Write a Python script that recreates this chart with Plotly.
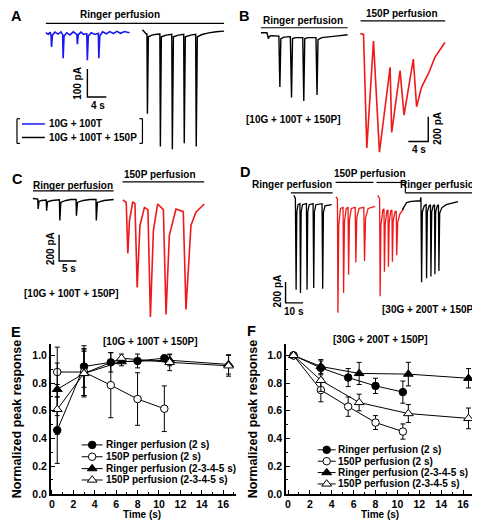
import plotly.graph_objects as go

W, H = 480, 520
FONT = "Liberation Sans, Arial, sans-serif"
BLUE = "#1818f0"
RED = "#f01818"

# ---------------- DATA ----------------
# Panel E / F summary data (normalized peak response)
t_2s = [0.5, 3, 5.5, 8, 10.5]
t_2345 = [0.5, 3, 6.5, 11, 16.5]

E_ringer_2s = [0.46, 0.92, 0.95, 0.96, 0.98]
E_ringer_2s_err = [0.24, 0.15, 0.07, 0.05, 0.02]
E_150p_2s = [0.88, 0.88, 0.785, 0.685, 0.615]
E_150p_2s_err = [0.18, 0.17, 0.235, 0.19, 0.165]
E_ringer_2345 = [0.755, 0.87, 0.955, 0.965, 0.935]
E_ringer_2345_err = [0.19, 0.16, 0.03, 0.04, 0.07]
E_150p_2345 = [0.61, 0.87, 0.98, 0.95, 0.925]
E_150p_2345_err = [0.18, 0.17, 0.03, 0.06, 0.075]

F_ringer_2s = [1.0, 0.91, 0.84, 0.78, 0.735]
F_ringer_2s_err = [0, 0.05, 0.065, 0.055, 0.08]
F_150p_2s = [1.0, 0.75, 0.63, 0.515, 0.45]
F_150p_2s_err = [0, 0.085, 0.07, 0.05, 0.055]
F_ringer_2345 = [1.0, 0.92, 0.87, 0.865, 0.835]
F_ringer_2345_err = [0, 0.05, 0.08, 0.085, 0.07]
F_150p_2345 = [1.0, 0.82, 0.66, 0.58, 0.545]
F_150p_2345_err = [0, 0.08, 0.06, 0.065, 0.075]

series_labels = ["Ringer perfusion (2 s)", "150P perfusion (2 s)",
                 "Ringer perfusion (2-3-4-5 s)", "150P perfusion (2-3-4-5 s)"]
x_ticks = [0, 2, 4, 6, 8, 10, 12, 14, 16]
y_ticks = [0.0, 0.2, 0.4, 0.6, 0.8, 1.0]

# Current traces (time in s, current in pA, baseline = 0)
A_blue_t = [0, 0.5, 0.9, 1.1, 1.2, 1.4, 1.9, 2.6, 3.2, 3.55, 3.65, 3.85, 4.4, 5.1, 5.8, 6.55, 6.67, 6.85,
            7.4, 8.0, 8.65, 8.77, 8.97, 9.6, 10.4, 11.1, 11.2, 11.4, 12.0, 12.8, 13.5, 14.3, 15.0, 15.8, 16.6, 17.7]
A_blue_i = [0, -6, 2, -10, -51, -8, 2, -5, 3, -6, -91, -12, 0, -8, 3, -6, -41, -8,
            2, -6, -4, -98, -12, 0, -6, -2, -91, -12, 3, -4, 4, -3, 5, -2, 4, 0]
A_black_t = [0, 0.3, 0.8, 0.95, 1.05, 1.25, 2.0, 3.0, 3.68, 3.79, 4.0, 5.0, 6.2, 6.32, 6.55, 7.6, 8.72, 8.84,
             9.06, 10.2, 11.25, 11.37, 11.6, 12.6, 14.0, 15.6, 17.26]
A_black_i = [7, 0, -8, -8, -293, -18, -12, -9, -8, -410, -18, -12, -9, -420, -18, -12, -9, -399,
             -18, -12, -9, -410, -18, -10, -4, 0, 2]

B_black_t = [0, 1.2, 1.5, 1.7, 2.0, 3.6, 3.8, 4.0, 4.6, 5.9, 6.14, 6.34, 7.0, 8.4, 8.6, 8.8, 9.5, 11.05,
             11.26, 11.46, 12.2, 13.5, 15.0, 17.4]
B_black_i = [0, 0, -48, -30, -24, -28, -440, -48, -36, -32, -525, -48, -40, -40, -552, -48, -40, -40,
             -504, -56, -40, -32, -28, -16]
B_red_t = [0, 0.66, 1.32, 2.66, 3.86, 6.0, 6.32, 8.0, 8.8, 10.66, 11.32, 12.32, 13.66, 15.0, 17.0]
B_red_i = [0, -8, -928, -61, -962, -274, -802, -301, -661, -208, -594, -434, -328, -194, -74]

C_black_t = [0, 1.0, 1.4, 1.52, 1.75, 2.5, 3.85, 3.96, 4.2, 5.5, 7.65, 7.76, 8.05, 9.5, 11.0, 12.45, 12.56,
             12.85, 14.5, 16.5, 18.2, 18.3, 18.6, 20.5, 23.3]
C_black_i = [0, 0, -5, -79, -22, -15, -12, -92, -25, -15, -10, -167, -30, -15, -8, -8, -130,
             -30, -15, -8, -8, -167, -30, -15, -8]
C_red_t = [0, 0.98, 1.44, 1.93, 2.87, 3.5, 4.14, 4.94, 6.24, 7.24, 7.96, 8.82, 10.06, 11.7, 12.47, 13.42,
           15.34, 17.44, 18.22, 19.66, 21.09, 23.48]
C_red_i = [0, -20, -407, -157, -15, -30, -664, -195, -58, -75, -889, -232, -32, -75, -869, -270,
           -70, -90, -831, -195, -95, -32]

D_black1_t = [0, 0.9, 1.31, 1.7, 2.4, 3.5, 3.81, 4.2, 5.0, 7.2, 7.56, 7.95, 8.8, 11.0, 11.36, 11.75, 12.6,
              16.1, 16.48, 16.9, 17.8, 21.6]
D_black1_i = [30, 0, -879, -130, -60, -50, -910, -130, -60, -50, -879, -130, -60, -50, -863, -130, -60,
              -50, -870, -130, -70, -60]
D_red1_t = [0, 0.85, 1.14, 1.6, 2.6, 4.05, 4.38, 4.85, 5.9, 6.9, 7.22, 7.7, 8.8, 11.0, 11.36, 11.9, 13.2,
            15.9, 16.31, 16.9, 18.4, 22.4]
D_red1_i = [20, 0, -1095, -250, -90, -80, -905, -220, -90, -80, -730, -200, -90, -80, -610, -180, -90,
            -80, -597, -180, -90, -70]
D_red2_t = [0, 1.05, 1.36, 1.8, 2.9, 3.55, 3.81, 4.25, 5.2, 5.85, 6.08, 6.5, 7.4, 8.1, 8.35, 8.8, 9.8,
            10.55, 10.8, 11.4, 12.6, 14.9]
D_red2_i = [30, 0, -943, -260, -110, -100, -705, -250, -120, -110, -657, -240, -120, -110, -610, -220, -130,
            -120, -546, -230, -150, -98]
D_black2_t = [0, 2.4, 5.0, 8.0, 10.2, 10.6, 10.97, 11.4, 12.5, 13.55, 13.81, 14.25, 15.3, 16.05, 16.31,
              16.75, 17.6, 18.35, 18.58, 19.0, 19.9, 20.6, 20.85, 21.3, 22.5, 25.0, 28.0, 31.8]
D_black2_i = [-108, -40, -28, -25, -22, 10, -806, -130, -70, -60, -768, -130, -70, -60, -752,
              -130, -70, -60, -730, -130, -70, -60, -698, -140, -90, -60, -45, -30]

# Scale bars (pA, s)
A_scale = (100, 4)
B_scale = (200, 4)
C_scale = (200, 5)
D_scale = (200, 10)

for a, b in [(A_blue_t, A_blue_i), (A_black_t, A_black_i), (B_black_t, B_black_i), (B_red_t, B_red_i),
             (C_black_t, C_black_i), (C_red_t, C_red_i), (D_black1_t, D_black1_i), (D_red1_t, D_red1_i),
             (D_red2_t, D_red2_i), (D_black2_t, D_black2_i)]:
    assert len(a) == len(b), (len(a), len(b))

# ---------------- FIGURE ----------------
fig = go.Figure()
layout = {}


def px(x):
    return x / W


def py(y):
    return 1 - y / H


# Trace panels: axis id -> (px per s, px per pA)
panel_scale = {3: (19 / 4, 28.3 / 100), 4: (5.0, 25 / 200), 5: (17.4 / 5, 26.7 / 200), 6: (17.6 / 10, 21 / 200)}
for n, (pxs, pxpa) in panel_scale.items():
    layout[f"xaxis{n}"] = dict(domain=[0, 1], range=[0, W / pxs], visible=False, anchor=f"y{n}", fixedrange=True)
    layout[f"yaxis{n}"] = dict(domain=[0, 1], range=[-H / pxpa, 0], visible=False, anchor=f"x{n}", fixedrange=True)


def add_current(n, t, i, x0, y0, color, width=1.3):
    pxs, pxpa = panel_scale[n]
    fig.add_trace(go.Scatter(
        x=[x0 / pxs + v for v in t], y=[v - y0 / pxpa for v in i],
        mode="lines", line=dict(color=color, width=width, shape="linear"),
        xaxis=f"x{n}", yaxis=f"y{n}", showlegend=False, hoverinfo="skip"))


def add_scalebar(n, scale, corner, hdir=1):
    pxs, pxpa = panel_scale[n]
    pa, sec = scale
    cx, cy = corner
    x0, y0 = cx / pxs, -cy / pxpa
    fig.add_trace(go.Scatter(
        x=[x0, x0, x0 + hdir * sec], y=[y0 + pa, y0, y0], mode="lines",
        line=dict(color="black", width=1.4), xaxis=f"x{n}", yaxis=f"y{n}",
        showlegend=False, hoverinfo="skip"))


# Panel A
add_current(3, A_blue_t, A_blue_i, 36, 25, BLUE, 1.6)
add_current(3, A_black_t, A_black_i, 133, 24, "black", 1.4)
add_scalebar(3, A_scale, (77.7, 90))
# Panel B
add_current(4, B_black_t, B_black_i, 252, 25, "black", 1.4)
add_current(4, B_red_t, B_red_i, 351.7, 25.7, RED, 1.6)
add_scalebar(4, B_scale, (420, 135), hdir=-1)
# Panel C
add_current(5, C_black_t, C_black_i, 23, 192.7, "black", 1.4)
add_current(5, C_red_t, C_red_i, 113.3, 194, RED, 1.6)
add_scalebar(5, C_scale, (49.3, 256))
# Panel D
add_current(6, D_black1_t, D_black1_i, 285, 192.7, "black", 1.3)
add_current(6, D_red1_t, D_red1_i, 327.3, 193.3, RED, 1.3)
add_current(6, D_red2_t, D_red2_i, 369.3, 192.7, RED, 1.3)
add_current(6, D_black2_t, D_black2_i, 394, 192.7, "black", 1.3)
add_scalebar(6, D_scale, (276.7, 298.3))

# Panels E and F
styles = [("circle", "black"), ("circle", "white"), ("triangle-up", "black"), ("triangle-up", "white")]
E_series = [(t_2s, E_ringer_2s, E_ringer_2s_err), (t_2s, E_150p_2s, E_150p_2s_err),
            (t_2345, E_ringer_2345, E_ringer_2345_err), (t_2345, E_150p_2345, E_150p_2345_err)]
F_series = [(t_2s, F_ringer_2s, F_ringer_2s_err), (t_2s, F_150p_2s, F_150p_2s_err),
            (t_2345, F_ringer_2345, F_ringer_2345_err), (t_2345, F_150p_2345, F_150p_2345_err)]


def msize(sym):
    return 7.5 if sym == "circle" else 8.5


for ax, series in [("", E_series), ("2", F_series)]:
    for (xs, ys, es), (sym, fill) in zip(series, styles):
        fig.add_trace(go.Scatter(
            x=xs, y=ys, mode="lines+markers",
            line=dict(color="black", width=1),
            marker=dict(symbol=sym, size=msize(sym), color=fill, line=dict(color="black", width=1)),
            error_y=dict(type="data", array=es, color="black", thickness=1, width=2.5),
            xaxis="x" + ax, yaxis="y" + ax, showlegend=False, hoverinfo="skip"))

tickfont = dict(family=FONT, size=10.5, color="black", weight="bold")
for ax, (xl, xr), xr_range in [("", (41, 227), [-0.1, 17.2]), ("2", (277, 467), [-0.2, 17.1])]:
    layout["xaxis" + ax] = dict(
        domain=[px(xl), px(xr)], range=xr_range, anchor="y" + ax, showline=True, linecolor="black",
        linewidth=1.5, ticks="inside", ticklen=4, tickwidth=1.2, tickcolor="black",
        tickmode="array", tickvals=x_ticks, ticktext=[str(v) for v in x_ticks],
        minor=dict(ticks="inside", ticklen=2, dtick=1, tick0=0, tickcolor="black", tickwidth=1),
        showgrid=False, zeroline=False, tickfont=tickfont, fixedrange=True)
    layout["yaxis" + ax] = dict(
        domain=[py(491.5), py(340)], range=[0, 1.082], anchor="x" + ax, showline=True, linecolor="black",
        linewidth=1.5, ticks="inside", ticklen=4, tickwidth=1.2, tickcolor="black",
        tickmode="array", tickvals=y_ticks, ticktext=[f"{v:.1f}" for v in y_ticks],
        minor=dict(ticks="inside", ticklen=2, dtick=0.1, tick0=0, tickcolor="black", tickwidth=1),
        showgrid=False, zeroline=False, tickfont=tickfont, fixedrange=True)

# Overlay axis in pixel units for legend samples
layout["xaxis7"] = dict(domain=[0, 1], range=[0, W], visible=False, anchor="y7", fixedrange=True)
layout["yaxis7"] = dict(domain=[0, 1], range=[H, 0], visible=False, anchor="x7", fixedrange=True)

annotations = []
shapes = []


def text(x, y, s, size=10, anchor="center", angle=0, color="black"):
    annotations.append(dict(x=px(x), y=py(y), xref="paper", yref="paper", text=s, showarrow=False,
                            xanchor=anchor, yanchor="middle", textangle=angle, borderpad=0,
                            font=dict(family=FONT, size=size, color=color, weight="bold")))


def hline(x1, x2, y, color="black", width=1.2):
    shapes.append(dict(type="line", xref="paper", yref="paper", x0=px(x1), x1=px(x2), y0=py(y), y1=py(y),
                       line=dict(color=color, width=width)))


def vline(x, y1, y2, color="black", width=1.2):
    shapes.append(dict(type="line", xref="paper", yref="paper", x0=px(x), x1=px(x), y0=py(y1), y1=py(y2),
                       line=dict(color=color, width=width)))


# Legends of E and F
for (lx1, lx2, tx, rows) in [(72, 93, 95, [442, 454, 466, 477.5]), (309, 327, 328, [447, 458.5, 470, 481.5])]:
    for lab, (sym, fill), ry in zip(series_labels, styles, rows):
        fig.add_trace(go.Scatter(x=[lx1, lx2], y=[ry, ry], mode="lines", line=dict(color="black", width=1),
                                 xaxis="x7", yaxis="y7", showlegend=False, hoverinfo="skip"))
        fig.add_trace(go.Scatter(x=[(lx1 + lx2) / 2], y=[ry], mode="markers",
                                 marker=dict(symbol=sym, size=msize(sym), color=fill,
                                             line=dict(color="black", width=1)),
                                 xaxis="x7", yaxis="y7", showlegend=False, hoverinfo="skip"))
        text(tx, ry, lab, 10, "left")

# Panel letters
for lab, x, y in [("A", 7, 8.5), ("B", 235, 8.5), ("C", 7.5, 173.5), ("D", 236, 166), ("E", 6, 328), ("F", 243, 327)]:
    text(x, y, lab, 14.5)

# Panel A annotations
text(110, 7, "Ringer perfusion")
hline(36, 215, 15.5)
text(67, 76, "100 pA", angle=-90)
text(88, 99, "4 s")
vline(7, 112, 137); hline(7, 10, 112); hline(7, 10, 137)
vline(133, 112, 137); hline(130, 133, 112); hline(130, 133, 137)
hline(12, 35, 117.3, BLUE, 1.5)
hline(12, 35, 131, "black", 1.5)
text(38, 117.3, "10G + 100T", anchor="left")
text(38, 131, "10G + 100T + 150P", anchor="left")

# Panel B annotations
text(294, 13, "Ringer perfusion")
hline(252, 339, 20)
text(394, 6, "150P perfusion")
hline(352, 437, 13)
text(429, 122, "200 pA", angle=-90)
text(410.7, 143, "4 s")
text(285, 112.7, "[10G + 100T + 150P]")

# Panel C annotations
text(63, 179.5, "Ringer perfusion")
hline(23, 104, 185)
text(151, 168, "150P perfusion")
hline(113, 195, 176)
text(40, 243, "200 pA", angle=-90)
text(59, 264, "5 s")
text(61.7, 289.3, "[10G + 100T + 150P]")

# Panel D annotations
text(283, 179, "Ringer perfusion")
hline(282, 324, 187)
text(362, 167, "150P perfusion")
hline(327, 365, 176.5)
hline(368, 397, 176.5)
vline(397, 176.5, 187)
hline(397, 478, 187)
text(432, 179, "Ringer perfusion")
text(268.3, 286.7, "200 pA", angle=-90)
text(285, 306.7, "10 s")
text(421, 305, "[30G + 200T + 150P]")

# Panel E / F titles
text(141, 337, "[10G + 100T + 150P]")
text(372, 335, "[30G + 200T + 150P]")
text(7, 416, "Normalized peak response", 12.5, angle=-90)
text(244, 416, "Normalized peak response", 12.5, angle=-90)
text(133, 512, "Time (s)", 10)
text(372, 512, "Time (s)", 10)

layout.update(dict(width=W, height=H, margin=dict(l=0, r=0, t=0, b=0), paper_bgcolor="white",
                   plot_bgcolor="rgba(0,0,0,0)", showlegend=False, annotations=annotations, shapes=shapes,
                   font=dict(family=FONT, color="black")))
fig.update_layout(**layout)
fig.write_html("out.html")
